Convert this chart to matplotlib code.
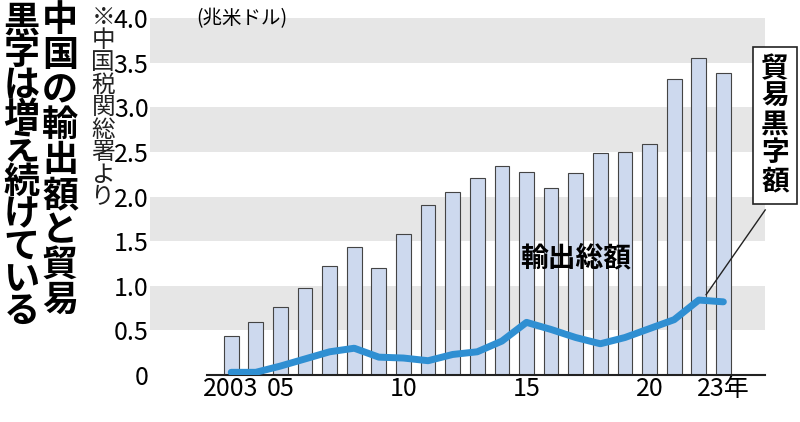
import matplotlib
matplotlib.use("Agg")
import matplotlib.pyplot as plt

years = list(range(2003, 2024))
exports = [0.44, 0.59, 0.76, 0.97, 1.22, 1.43, 1.20, 1.58, 1.90, 2.05, 2.21, 2.34, 2.27, 2.10, 2.26, 2.49, 2.50, 2.59, 3.32, 3.55, 3.38]
surplus = [0.03, 0.03, 0.10, 0.18, 0.26, 0.30, 0.20, 0.19, 0.16, 0.23, 0.26, 0.38, 0.59, 0.51, 0.42, 0.35, 0.42, 0.52, 0.62, 0.84, 0.82]
xticks = [2003, 2005, 2010, 2015, 2020, 2023]
xlabels = ["2003", "05", "10", "15", "20", "23年"]
yticks = [0, 0.5, 1.0, 1.5, 2.0, 2.5, 3.0, 3.5, 4.0]
ylabels = ["0", "0.5", "1.0", "1.5", "2.0", "2.5", "3.0", "3.5", "4.0"]

plt.rcParams["font.family"] = "Noto Sans CJK JP"
fig = plt.figure(figsize=(8, 4.22), dpi=100)
ax = fig.add_axes([0.1875, 0.1114, 0.769, 0.8456])
ax.set_xlim(1999.7, 2024.7)
ax.set_ylim(0, 4.0)
for lo in [0.5, 1.5, 2.5, 3.5]:
    ax.axhspan(lo, lo + 0.5, color="#e6e6e6", zorder=0, lw=0)
ax.bar(years, exports, width=0.6, color="#cdd9ee", edgecolor="#444444", lw=0.8, zorder=2)
ax.plot(years, surplus, color="#2f8fd2", lw=5, zorder=3, solid_capstyle="round")
ax.set_yticks(yticks)
ax.set_yticklabels(ylabels, fontsize=18)
ax.set_xticks(xticks)
ax.set_xticklabels(xlabels, fontsize=18)
ax.tick_params(length=0, pad=1)
for s in ["top", "right", "left"]:
    ax.spines[s].set_visible(False)
ax.spines["bottom"].set_color("#222222")
ax.spines["bottom"].set_linewidth(1.5)
ax.spines["bottom"].set_bounds(2002, 2024.7)

fig.text(0.245, 0.955, "(兆米ドル)", fontsize=14, va="center")
ax.text(2017.0, 1.31, "輸出総額", fontsize=20, fontweight="bold", ha="center", va="center", zorder=5)
ax.text(2025.1, 2.8, "\n".join("貿易黒字額"), fontsize=20, fontweight="bold", ha="center", va="center",
        linespacing=1.0, zorder=5, clip_on=False,
        bbox=dict(boxstyle="square,pad=0.3", fc="white", ec="#222222", lw=1.2))
ax.plot([2022.3, 2024.7], [0.9, 1.85], color="#222222", lw=1, zorder=4, clip_on=False)

fig.text(0.075, 0.995, "\n".join("中国の輸出額と貿易"), fontsize=26, fontweight="bold", ha="center", va="top", linespacing=0.93)
fig.text(0.027, 0.995, "\n".join("黒字は増え続けている"), fontsize=26, fontweight="bold", ha="center", va="top", linespacing=0.84)
fig.text(0.129, 0.985, "\n".join("※中国税関総署より"), fontsize=17, ha="center", va="top", linespacing=0.97, color="#222222")
fig.savefig("out.png", dpi=100)
